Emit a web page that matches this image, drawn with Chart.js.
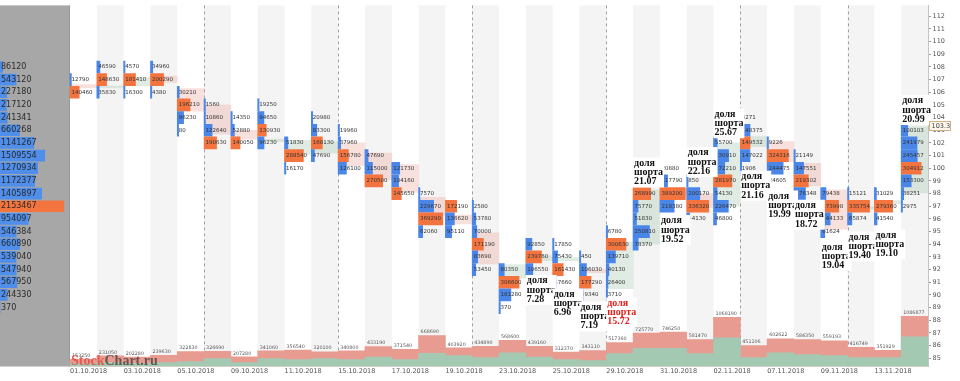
<!DOCTYPE html>
<html>
<head>
<meta charset="utf-8">
<script src="https://cdn.jsdelivr.net/npm/chart.js@4.4.1/dist/chart.umd.min.js"></script>
<style>
  html, body { margin: 0; padding: 0; background: #fff; }
  #c { display: block; }
</style>
</head>
<body>
<canvas id="c" width="960" height="381"></canvas>
<script>
// торговые дни
const dates = ['01.10.2018', '02.10.2018', '03.10.2018', '04.10.2018', '05.10.2018', '08.10.2018', '09.10.2018', '10.10.2018',
  '11.10.2018', '12.10.2018', '15.10.2018', '16.10.2018', '17.10.2018', '18.10.2018', '19.10.2018', '22.10.2018',
  '23.10.2018', '24.10.2018', '25.10.2018', '26.10.2018', '29.10.2018', '30.10.2018', '31.10.2018', '01.11.2018',
  '02.11.2018', '06.11.2018', '07.11.2018', '08.11.2018', '09.11.2018', '12.11.2018', '13.11.2018', '14.11.2018'];

// объём за день и его «зелёная» часть
const volumes = [153250, 231050, 202280, 239630, 322830, 326690, 207280, 341060, 356540, 320100, 340800, 433190,
  371540, 668690, 403920, 434890, 568600, 439160, 312370, 343110, 517360, 725770, 746250, 581470,
  1068190, 451106, 602622, 584350, 559193, 416749, 351929, 1086877];
const buyVolumes = [65000, 85000, 70000, 85000, 107000, 171000, 85000, 171000, 150000, 171000, 150000, 203000,
  150000, 288000, 235000, 192000, 299000, 203000, 150000, 128000, 278000, 395000, 395000, 278000,
  620000, 192000, 299000, 256000, 235000, 192000, 192000, 641000];

// тело свечи
const opens = [106.6, 106.35, 106.5, 107.27, 106.3, 105.0, 103.0, 102.1, 101.1, 101.2, 102.0, 101.2, 100.3, 97.7, 96.3, 94.9,
  91.3, 92.7, 92.7, 92.0, 90.5, 94.0, 98.3, 98.0, 97.0, 101.7, 102.1, 100.4, 98.3, 96.75, 97.2, 98.05];
const closes = [106.35, 106.5, 107.2, 106.78, 104.5, 102.7, 102.3, 102.3, 102.2, 102.1, 100.2, 99.1, 98.1, 96.3, 95.6, 92.45,
  92.4, 93.1, 92.95, 91.75, 94.2, 98.3, 97.9, 96.9, 102.0, 102.5, 100.5, 98.6, 95.2, 97.0, 97.45, 103.3];

// кластеры: верхний уровень цены и объёмы по уровням сверху вниз (шаг 1)
const topLevels = [107, 108, 108, 108, 106, 105, 104, 105, 102, 104, 103, 101, 100, 98, 97, 97,
  92, 94, 94, 93, 95, 98, 100, 99, 102, 104, 102, 101, 98, 98, 98, 103];
const levelVolumes = [
  [12790, 140460],
  [46590, 148630, 35830],
  [4570, 181410, 16300],
  [34960, 200290, 4380],
  [30210, 196210, 96230, 80],
  [1560, 10860, 122640, 190630],
  [14350, 52880, 140050],
  [19250, 94650, 130930, 96230],
  [51830, 288540, 16170],
  [20980, 83300, 168130, 47690],
  [19960, 37960, 156780, 126100],
  [47690, 115000, 270500],
  [121730, 104160, 145650],
  [7570, 229670, 369290, 62060],
  [172190, 136620, 95110],
  [2580, 53780, 70000, 171190, 83690, 53450],
  [80350, 306600, 181280, 370],
  [92850, 239760, 106550],
  [17850, 75430, 161430, 57660],
  [450, 106030, 177290, 59340],
  [6780, 300630, 139710, 40130, 26400, 3710],
  [268990, 75770, 51830, 250810, 78370],
  [20880, 117790, 389200, 218380],
  [850, 200170, 336320, 44130],
  [55700, 230910, 172210, 281970, 54130, 226470, 46800],
  [4271, 148375, 149532, 147022, 1906],
  [9226, 324316, 244475, 24605],
  [21149, 147551, 219302, 176348],
  [79438, 273998, 144133, 61624],
  [15121, 335754, 65874],
  [31029, 279360, 41540],
  [100103, 241979, 245457, 304912, 153300, 38251, 2975]
];

// профиль объёма за период (108 … 89)
const profileTop = 108;
const profileVolumes = [86120, 543120, 227180, 217120, 241341, 660268, 1141267, 1509554, 1270934, 1172377,
  1405897, 2153467, 954097, 546384, 660890, 539040, 547940, 567950, 244330, 370];

// доля шорта и цена, у которой стоит подпись
const shortShare = [null, null, null, null, null, null, null, null, null, null, null, null, null, null, null, null,
  null, 7.28, 6.96, 7.19, 15.72, 21.07, 19.52, 22.16, 25.67, 21.16, 19.99, 18.72, 19.04, 19.40, 19.10, 20.99];
const shortLabelPrice = [null, null, null, null, null, null, null, null, null, null, null, null, null, null, null, null,
  null, 91.13, 90.06, 89.03, 89.36, 100.4, 95.86, 101.23, 104.29, 99.36, 97.8, 97.07, 93.78, 94.55, 94.73, 105.33];
const shortAlert = ['29.10.2018'];

const priceTicks = [85, 86, 87, 88, 89, 90, 91, 92, 93, 94, 95, 96, 97, 98, 99, 100, 101, 102, 103, 104, 105, 106,
  107, 108, 109, 110, 111, 112];
const lastPrice = 103.3;

// ---- оформление ----
const BLUE = '#4a86e8';
const ORANGE = '#f3743f';
const PANEL = 2.612;          // ширина левой панели в колонках
const Y_MIN = 84.35, Y_MAX = 112.86;
const VOL_MAX = 7830000;
const FONT = '"DejaVu Sans"';

Chart.defaults.font.family = FONT;

const maxLevel = Math.max(...levelVolumes.flat());
const footprint = [];
levelVolumes.forEach((vals, c) => {
  const poc = Math.max(...vals);
  vals.forEach((v, j) => {
    footprint.push({ y: topLevels[c] - j, x: [c, c + Math.max(v / maxLevel * 0.95, 0.05)], poc: v === poc, v });
  });
});

const profileMax = Math.max(...profileVolumes);
const profile = profileVolumes.map((v, i) => ({
  y: profileTop - i, x: [-PANEL, -PANEL + v / profileMax * 2.38], poc: v === profileMax, v
}));

const isWeekStart = (c) => {
  if (c === 0) return false;
  const d = (s) => { const [dd, mm, yy] = s.split('.').map(Number); return new Date(yy, mm - 1, dd); };
  const a = d(dates[c - 1]), b = d(dates[c]);
  return b.getDay() < a.getDay() || (b - a) > 4 * 864e5;
};

const drawPlugin = {
  id: 'footprintText',
  beforeDatasetsDraw(chart) {
    const { ctx, chartArea: a, scales: { x } } = chart;
    ctx.save();
    const x0 = x.getPixelForValue(0);
    ctx.fillStyle = '#a7a7a7';
    ctx.fillRect(a.left, a.top, x0 - a.left, a.bottom - a.top);
    ctx.fillStyle = '#f4f4f4';
    dates.forEach((d, c) => {
      if (c % 2) {
        const l = x.getPixelForValue(c);
        ctx.fillRect(l, a.top, x.getPixelForValue(c + 1) - l, a.bottom - a.top);
      }
    });
    ctx.strokeStyle = '#9a9a9a';
    ctx.lineWidth = 1;
    ctx.beginPath();
    ctx.moveTo(Math.round(x0) - 0.5, a.top);
    ctx.lineTo(Math.round(x0) - 0.5, a.bottom);
    ctx.stroke();
    ctx.setLineDash([3, 3]);
    ctx.strokeStyle = '#a0a0a0';
    dates.forEach((d, c) => {
      if (!isWeekStart(c)) return;
      const px = Math.round(x.getPixelForValue(c)) + 0.5;
      ctx.beginPath();
      ctx.moveTo(px, a.top);
      ctx.lineTo(px, a.bottom);
      ctx.stroke();
    });
    ctx.restore();
  },
  afterDatasetsDraw(chart) {
    const { ctx, chartArea: a, scales: { x, y, vol } } = chart;
    ctx.save();
    ctx.textBaseline = 'middle';
    ctx.textAlign = 'left';

    // числа в кластерах
    ctx.font = '5.5px ' + FONT;
    ctx.fillStyle = '#333';
    footprint.forEach(p => {
      ctx.fillText(String(p.v), x.getPixelForValue(p.x[0]) + 1.5, y.getPixelForValue(p.y));
    });

    // подписи объёма
    ctx.font = '4.8px ' + FONT;
    ctx.fillStyle = '#555';
    volumes.forEach((v, c) => {
      ctx.fillText(String(v), x.getPixelForValue(c) + 2, vol.getPixelForValue(v) - 3.5);
    });

    // профиль
    ctx.font = '8px ' + FONT;
    ctx.fillStyle = '#2a2a2a';
    profile.forEach(p => {
      ctx.fillText(String(p.v), x.getPixelForValue(-PANEL) + 1, y.getPixelForValue(p.y));
    });

    // доля шорта
    ctx.font = 'bold 10px "Liberation Serif"';
    const lh = 9.3;
    shortShare.forEach((s, c) => {
      if (s === null) return;
      const lines = ['доля', 'шорта', s.toFixed(2)];
      const px = x.getPixelForValue(c) + 1;
      const py = y.getPixelForValue(shortLabelPrice[c]);
      const w = Math.max(...lines.map(t => ctx.measureText(t).width));
      ctx.fillStyle = '#fff';
      ctx.fillRect(px - 1, py - lh / 2 - 1, w + 2, lh * 3 + 2);
      ctx.fillStyle = shortAlert.includes(dates[c]) ? '#e3211c' : '#111';
      lines.forEach((t, i) => ctx.fillText(t, px, py + i * lh));
    });

    // водяной знак
    ctx.font = 'bold 14px "Liberation Serif"';
    ctx.textBaseline = 'alphabetic';
    const wx = x.getPixelForValue(0) + 1, wy = a.bottom - 2;
    ctx.globalAlpha = 0.9;
    ctx.fillStyle = '#e3534b';
    ctx.fillText('Stock', wx, wy);
    ctx.fillStyle = '#5d4b48';
    ctx.fillText('Chart.ru', wx + ctx.measureText('Stock').width, wy);
    ctx.restore();
  },
  afterDraw(chart) {
    const { ctx, chartArea: a, scales: { y } } = chart;
    const py = Math.round(y.getPixelForValue(lastPrice));
    ctx.save();
    ctx.fillStyle = '#fdf6ea';
    ctx.strokeStyle = '#d4b08a';
    ctx.lineWidth = 1;
    ctx.fillRect(a.right + 1, py - 4.5, 21, 9);
    ctx.strokeRect(a.right + 1.5, py - 4.5, 21, 9);
    ctx.fillStyle = '#444';
    ctx.font = '6.5px ' + FONT;
    ctx.textBaseline = 'middle';
    ctx.fillText(String(lastPrice), a.right + 3.5, py);
    ctx.restore();
  }
};

const hbar = { type: 'bar', indexAxis: 'y', xAxisID: 'xh', yAxisID: 'yh', grouped: false, borderWidth: 0 };
const vbar = { type: 'bar', xAxisID: 'x', grouped: false, barPercentage: 1, categoryPercentage: 1, borderWidth: 0 };

new Chart(document.getElementById('c'), {
  type: 'bar',
  data: {
    datasets: [
      { ...hbar, label: 'profile', data: profile, barThickness: 11, order: 1,
        backgroundColor: ctx => ctx.raw && ctx.raw.poc ? ORANGE : '#4f8eea' },
      { ...hbar, label: 'footprint', data: footprint, barThickness: 12, order: 2,
        backgroundColor: ctx => ctx.raw && ctx.raw.poc ? ORANGE : BLUE },
      { ...vbar, label: 'body', yAxisID: 'y', order: 4,
        data: opens.map((o, c) => ({ x: c + 0.5, y: [o, closes[c]] })),
        backgroundColor: ctx => closes[ctx.dataIndex] >= opens[ctx.dataIndex] ? 'rgba(165,200,175,0.35)' : 'rgba(235,165,155,0.35)' },
      { ...vbar, label: 'buy', yAxisID: 'vol', order: 5,
        data: buyVolumes.map((v, c) => ({ x: c + 0.5, y: v })), backgroundColor: '#a3c9b3' },
      { ...vbar, label: 'volume', yAxisID: 'vol', order: 6,
        data: volumes.map((v, c) => ({ x: c + 0.5, y: v })), backgroundColor: '#e79b91' }
    ]
  },
  options: {
    responsive: false,
    maintainAspectRatio: false,
    animation: false,
    devicePixelRatio: 1,
    layout: { padding: 0 },
    plugins: { legend: { display: false }, tooltip: { enabled: false } },
    scales: {
      x: {
        type: 'linear', position: 'bottom', min: -PANEL, max: dates.length, offset: false,
        grid: { display: false, drawTicks: false, tickLength: 0, offset: false }, border: { display: false },
        afterBuildTicks: s => { s.ticks = dates.map((d, i) => ({ value: i })).filter(t => t.value % 2 === 0); },
        afterFit: s => { s.height = 14.5; },
        ticks: { autoSkip: false, maxRotation: 0, align: 'start', padding: 1, color: '#555',
          font: { size: 6.5, family: FONT }, callback: v => dates[v] || '' }
      },
      y: {
        type: 'linear', position: 'right', min: Y_MIN, max: Y_MAX, offset: false,
        afterBuildTicks: s => { s.ticks = priceTicks.map(v => ({ value: v })); },
        afterFit: s => { s.width = 32; },
        grid: { drawOnChartArea: false, drawTicks: true, tickLength: 3, color: '#999' },
        border: { display: true, color: '#c4c4c4' },
        ticks: { padding: 1.5, color: '#555', font: { size: 6.5, family: FONT } }
      },
      xh: { type: 'linear', axis: 'x', position: 'bottom', display: false, offset: false,
        grid: { offset: false }, min: -PANEL, max: dates.length },
      yh: { type: 'linear', axis: 'y', position: 'right', display: false, offset: false,
        min: Y_MIN, max: Y_MAX, ticks: { stepSize: 1 } },
      vol: { type: 'linear', axis: 'y', position: 'right', display: false, offset: false, min: 0, max: VOL_MAX }
    }
  },
  plugins: [drawPlugin]
});
</script>
</body>
</html>
